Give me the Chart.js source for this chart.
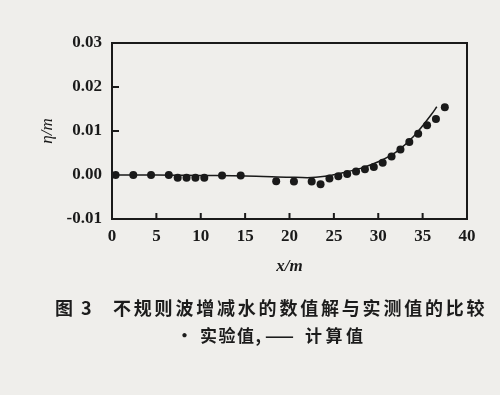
<!DOCTYPE html>
<html>
<head>
<meta charset="utf-8">
<script src="https://cdn.jsdelivr.net/npm/chart.js@4/dist/chart.umd.min.js"></script>
<style>
  html, body { margin: 0; padding: 0; background: #efeeeb; }
  #wrap { position: relative; width: 500px; height: 395px; }
  canvas { position: absolute; left: 0; top: 0; }
  .cap {
    position: absolute;
    font-family: "Noto Sans CJK SC", sans-serif;
    font-weight: bold;
    color: #1c1c1c;
    white-space: nowrap;
    line-height: 1;
  }
</style>
</head>
<body>
<div id="wrap">
  <canvas id="c" width="500" height="395"></canvas>
  <div class="cap" style="left:55px; top:298px; font-size:18px; letter-spacing:2px;">图 3</div>
  <div class="cap" style="left:113px; top:298px; font-size:18px; letter-spacing:2.8px;">不规则波增减水的数值解与实测值的比较</div>
  <div class="cap" style="left:176px; top:326px; font-size:17px;">•</div>
  <div class="cap" style="left:200px; top:326px; font-size:17px; letter-spacing:1.5px;">实验值,</div>
  <div class="cap" style="left:265px; top:326px; font-size:17px;">——</div>
  <div class="cap" style="left:305px; top:326px; font-size:17px; letter-spacing:3.5px;">计算值</div>
</div>
<script>
// measured points (实验值)
const measX = [0.4, 2.4, 4.4, 6.4, 7.4, 8.4, 9.4, 10.4, 12.4, 14.5, 18.5, 20.5, 22.5, 23.5,
  24.5, 25.5, 26.5, 27.5, 28.5, 29.5, 30.5, 31.5, 32.5, 33.5, 34.5, 35.5, 36.5, 37.5];
const measY = [0.0, 0.0, 0.0, 0.0, -0.0006, -0.0006, -0.0006, -0.0006, -0.0001, -0.0001,
  -0.0014, -0.0015, -0.0015, -0.0021, -0.0008, -0.0003, 0.0002, 0.0008, 0.0013, 0.0018,
  0.0028, 0.0042, 0.0058, 0.0075, 0.0094, 0.0113, 0.0127, 0.0154];

// computed curve (计算值)
const calcX = [0, 5, 10, 15, 20, 22, 24, 26, 28, 30, 32, 34, 36, 36.6];
const calcY = [0.0, 0.0, -0.0001, -0.0002, -0.0005, -0.0006, -0.0003, 0.0005, 0.0015,
  0.003, 0.0052, 0.0088, 0.0138, 0.0155];

const xTicks = [0, 5, 10, 15, 20, 25, 30, 35, 40];
const yTicks = [-0.01, 0.0, 0.01, 0.02, 0.03];

const ink = "#1a1a1a";

// frame + inward tick marks
const framePlugin = {
  id: "frame",
  afterDraw(chart) {
    const { ctx, chartArea: a, scales } = chart;
    ctx.save();
    ctx.strokeStyle = ink;
    ctx.lineWidth = 2;
    ctx.strokeRect(a.left, a.top, a.right - a.left, a.bottom - a.top);
    ctx.beginPath();
    xTicks.forEach(v => {
      const px = scales.x.getPixelForValue(v);
      ctx.moveTo(px, a.bottom);
      ctx.lineTo(px, a.bottom - 6);
    });
    yTicks.forEach(v => {
      const py = scales.y.getPixelForValue(v);
      ctx.moveTo(a.left, py);
      ctx.lineTo(a.left + 7, py);
    });
    ctx.stroke();
    ctx.restore();
  }
};

const pts = (xs, ys) => xs.map((x, i) => ({ x: x, y: ys[i] }));

new Chart(document.getElementById("c"), {
  type: "scatter",
  data: {
    datasets: [
      {
        label: "计算值",
        data: pts(calcX, calcY),
        showLine: true,
        borderColor: ink,
        borderWidth: 1.5,
        pointRadius: 0,
        cubicInterpolationMode: "monotone",
      },
      {
        label: "实验值",
        data: pts(measX, measY),
        backgroundColor: ink,
        borderColor: ink,
        pointRadius: 4,
        borderWidth: 0,
      },
    ],
  },
  options: {
    responsive: false,
    animation: false,
    layout: { padding: { top: 43, right: 33, bottom: 116, left: 0 } },
    plugins: {
      legend: { display: false },
      tooltip: { enabled: false },
    },
    scales: {
      x: {
        type: "linear",
        min: 0,
        max: 40,
        afterBuildTicks: s => { s.ticks = xTicks.map(v => ({ value: v })); },
        afterFit: s => { s.height = 60; },
        grid: { display: false, drawTicks: false },
        border: { display: false },
        ticks: {
          color: ink,
          padding: 7,
          font: { family: "Liberation Serif", size: 17, weight: "bold" },
        },
        title: {
          display: true,
          text: "x/m",
          color: ink,
          padding: { top: 0, bottom: 2 },
          font: { family: "Liberation Serif", size: 17, style: "italic", weight: "bold" },
        },
      },
      y: {
        type: "linear",
        min: -0.01,
        max: 0.03,
        afterBuildTicks: s => { s.ticks = yTicks.map(v => ({ value: v })); },
        afterFit: s => { s.width = 112; },
        grid: { display: false, drawTicks: false },
        border: { display: false },
        ticks: {
          color: ink,
          padding: 10,
          font: { family: "Liberation Serif", size: 17, weight: "bold" },
          callback: v => v.toFixed(2),
        },
        title: {
          display: true,
          text: "η/m",
          color: ink,
          padding: { top: 37, bottom: 0 },
          font: { family: "Liberation Serif", size: 17, style: "italic" },
        },
      },
    },
  },
  plugins: [framePlugin],
});
</script>
</body>
</html>
